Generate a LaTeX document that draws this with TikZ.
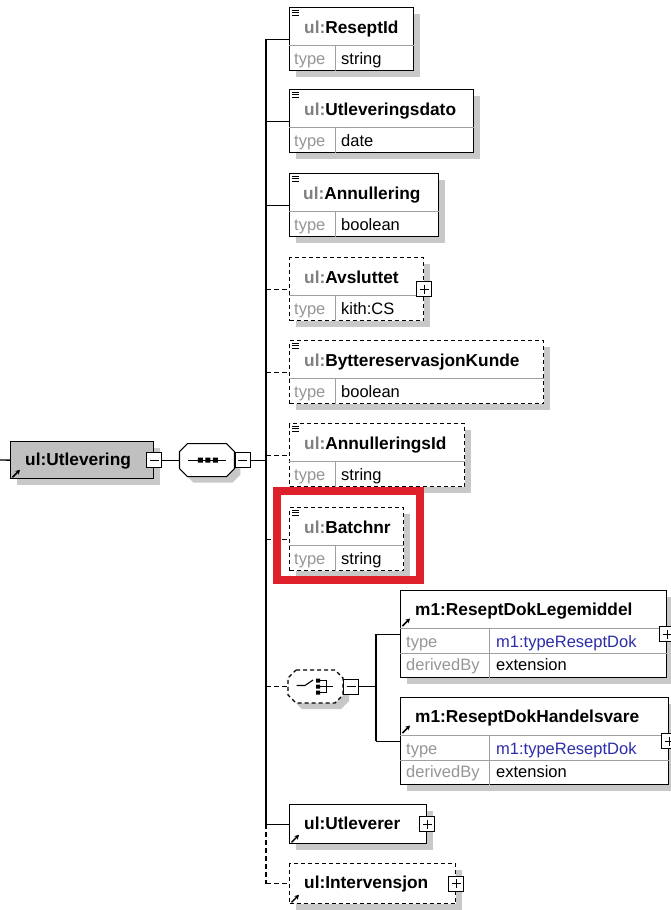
\documentclass[tikz,border=0pt]{standalone}
\usepackage{fontspec}
\setmainfont{Liberation Sans}
\usetikzlibrary{positioning,shadows,arrows.meta}
\definecolor{shadegrey}{RGB}{200,200,200}
\definecolor{rootgrey}{RGB}{192,192,192}
\definecolor{nsgrey}{RGB}{128,128,128}
\definecolor{labelgrey}{RGB}{150,150,150}
\definecolor{rulegrey}{RGB}{160,160,160}
\definecolor{typeblue}{RGB}{45,45,170}
\definecolor{markred}{RGB}{222,32,42}
\newcommand\elemfont{\fontsize{17.3}{20}\selectfont\bfseries}
\newcommand\cellfont{\fontsize{16.5}{19}\selectfont}
\newcommand\nspfx[1]{\textcolor{nsgrey}{#1}}
\begin{document}
\begin{tikzpicture}[x=1pt,y=-1pt,
    elbox/.style={draw,line width=1.3pt,fill=white,anchor=north west,inner sep=0pt,minimum height=63pt,
      drop shadow={shadow xshift=6pt,shadow yshift=-6pt,fill=shadegrey,opacity=1}},
    optbox/.style={elbox,dash pattern=on 4pt off 3pt},
    ename/.style={anchor=base west,inner sep=0pt,font=\elemfont},
    tlabel/.style={anchor=base west,inner sep=0pt,font=\cellfont,text=labelgrey},
    tvalue/.style={anchor=base west,inner sep=0pt,font=\cellfont},
    cellrule/.style={draw=rulegrey,line width=0.9pt},
    wire/.style={line width=1.3pt},
    optwire/.style={wire,dash pattern=on 5pt off 3pt},
    minusbox/.style={draw,fill=white,line width=0.9pt,minimum size=15pt,inner sep=0pt,
      path picture={\draw[line width=0.9pt] ([xshift=3pt]path picture bounding box.west) -- ([xshift=-3pt]path picture bounding box.east);}},
    plusbox/.style={draw,fill=white,line width=0.9pt,minimum size=15pt,inner sep=0pt,
      path picture={\draw[line width=0.9pt] ([xshift=3pt]path picture bounding box.west) -- ([xshift=-3pt]path picture bounding box.east)
        ([yshift=-3pt]path picture bounding box.north) -- ([yshift=3pt]path picture bounding box.south);}},
    groupbox/.style={minimum width=55pt,minimum height=33pt,inner sep=0pt},
    octagon/.pic={
      \fill[shadegrey,shift={(6,6)}] (-19.5,-16.5) -- (19.5,-16.5) -- (27.5,-8.5) -- (27.5,8.5) -- (19.5,16.5)
        -- (-19.5,16.5) -- (-27.5,8.5) -- (-27.5,-8.5) -- cycle;
      \draw[fill=white,line width=1.1pt,pic actions] (-19.5,-16.5) -- (19.5,-16.5) -- (27.5,-8.5) -- (27.5,8.5)
        -- (19.5,16.5) -- (-19.5,16.5) -- (-27.5,8.5) -- (-27.5,-8.5) -- cycle;},
    docmark/.pic={\draw[line width=0.9pt] (3,3) -- (10,3) (3,5.5) -- (10,5.5) (3,8) -- (10,8);},
    refmark/.pic={\draw[line width=1.5pt,-{Stealth[length=4.5pt,width=5pt]}] (2.5,-2) -- (10,-9.5);}]
\fill[white] (0,0) rectangle (670,910);
\useasboundingbox (0,0) rectangle (670,910);
\coordinate (in) at (0,460);
\coordinate (bus) at (266,0);
\coordinate (fork) at (376,0);

% root element and sequence
\node[elbox,fill=rootgrey,minimum width=143pt,minimum height=37pt] (root) at (10,441) {};
\node[ename] (rootname) at ([shift={(15,24)}]root.north west) {ul:Utlevering};
\pic at (root.south west) {refmark};
\node[minusbox] (rootm) at (root.east) {};
\node[groupbox,right=17pt of rootm] (seq) {};
\pic at (seq.center) {octagon};
\node[minusbox,right=0pt of seq] (seqm) {};
\begin{scope}[shift={(seq.center)}]
  \draw[line width=1.1pt] (-19,0) -- (19,0);
  \fill (-9,-2.5) rectangle ++(5,5) (-1.5,-2.5) rectangle ++(5,5) (6,-2.5) rectangle ++(5,5);
\end{scope}

% children of the sequence
\node[elbox,minimum width=124pt] (rid) at (289,7) {};
\pic at (rid.north west) {docmark};
\node[ename] (ridname) at ([shift={(15,26)}]rid.north west) {\nspfx{ul:}ReseptId};
\draw[cellrule] ([yshift=-38pt]rid.north west) -- ([yshift=-38pt]rid.north east)
                ([shift={(46,38)}]rid.north west) -- ([xshift=46pt]rid.south west);
\node[tlabel] (ridtype) at ([shift={(5,57)}]rid.north west) {type};
\node[tvalue] (ridvalue) at ([shift={(52,57)}]rid.north west) {string};

\node[elbox,minimum width=184pt] (udt) at (289,89) {};
\pic at (udt.north west) {docmark};
\node[ename] (udtname) at ([shift={(15,26)}]udt.north west) {\nspfx{ul:}Utleveringsdato};
\draw[cellrule] ([yshift=-38pt]udt.north west) -- ([yshift=-38pt]udt.north east)
                ([shift={(46,38)}]udt.north west) -- ([xshift=46pt]udt.south west);
\node[tlabel] (udttype) at ([shift={(5,57)}]udt.north west) {type};
\node[tvalue] (udtvalue) at ([shift={(52,57)}]udt.north west) {date};

\node[elbox,minimum width=149pt] (ann) at (289,173) {};
\pic at (ann.north west) {docmark};
\node[ename] (annname) at ([shift={(14,26)}]ann.north west) {\nspfx{ul:}Annullering};
\draw[cellrule] ([yshift=-38pt]ann.north west) -- ([yshift=-38pt]ann.north east)
                ([shift={(46,38)}]ann.north west) -- ([xshift=46pt]ann.south west);
\node[tlabel] (anntype) at ([shift={(5,57)}]ann.north west) {type};
\node[tvalue] (annvalue) at ([shift={(52,57)}]ann.north west) {boolean};

\node[optbox,minimum width=134pt] (avs) at (289,257) {};
\node[ename] (avsname) at ([shift={(15,26)}]avs.north west) {\nspfx{ul:}Avsluttet};
\draw[cellrule] ([yshift=-38pt]avs.north west) -- ([yshift=-38pt]avs.north east)
                ([shift={(46,38)}]avs.north west) -- ([xshift=46pt]avs.south west);
\node[tlabel] (avstype) at ([shift={(5,57)}]avs.north west) {type};
\node[tvalue] (avsvalue) at ([shift={(52,57)}]avs.north west) {kith:CS};
\node[plusbox] (avsp) at (avs.east) {};

\node[optbox,minimum width=254pt] (byt) at (289,340) {};
\pic at (byt.north west) {docmark};
\node[ename] (bytname) at ([shift={(15,26)}]byt.north west) {\nspfx{ul:}ByttereservasjonKunde};
\draw[cellrule] ([yshift=-38pt]byt.north west) -- ([yshift=-38pt]byt.north east)
                ([shift={(46,38)}]byt.north west) -- ([xshift=46pt]byt.south west);
\node[tlabel] (byttype) at ([shift={(5,57)}]byt.north west) {type};
\node[tvalue] (bytvalue) at ([shift={(52,57)}]byt.north west) {boolean};

\node[optbox,minimum width=175pt] (aid) at (289,423) {};
\pic at (aid.north west) {docmark};
\node[ename] (aidname) at ([shift={(15,26)}]aid.north west) {\nspfx{ul:}AnnulleringsId};
\draw[cellrule] ([yshift=-38pt]aid.north west) -- ([yshift=-38pt]aid.north east)
                ([shift={(46,38)}]aid.north west) -- ([xshift=46pt]aid.south west);
\node[tlabel] (aidtype) at ([shift={(5,57)}]aid.north west) {type};
\node[tvalue] (aidvalue) at ([shift={(52,57)}]aid.north west) {string};

\node[optbox,minimum width=114pt] (bat) at (289,507) {};
\pic at (bat.north west) {docmark};
\node[ename] (batname) at ([shift={(15,26)}]bat.north west) {\nspfx{ul:}Batchnr};
\draw[cellrule] ([yshift=-38pt]bat.north west) -- ([yshift=-38pt]bat.north east)
                ([shift={(46,38)}]bat.north west) -- ([xshift=46pt]bat.south west);
\node[tlabel] (battype) at ([shift={(5,57)}]bat.north west) {type};
\node[tvalue] (batvalue) at ([shift={(52,57)}]bat.north west) {string};

% choice
\node[groupbox] (chc) at (315.5,686.5) {};
\pic[dash pattern=on 4pt off 3pt] at (chc.center) {octagon};
\node[minusbox,right=0pt of chc] (chcm) {};
\begin{scope}[shift={(chc.center)}]
  \draw[line width=1.1pt] (-19,-1) -- (-10.5,-1) -- (-2.5,-6.5);
  \fill (0.5,-8) rectangle ++(4,4) (0.5,-2) rectangle ++(4,4) (0.5,4) rectangle ++(4,4);
  \draw[line width=1pt] (4.5,-6) -- (11,-6) -- (11,6) -- (4.5,6) (4.5,0) -- (17,0);
\end{scope}

\node[elbox,minimum width=266pt,minimum height=87pt] (leg) at (400,590) {};
\pic at ([yshift=-38pt]leg.north west) {refmark};
\node[ename] (legname) at ([shift={(15,25)}]leg.north west) {m1:ReseptDokLegemiddel};
\draw[cellrule] ([yshift=-38pt]leg.north west) -- ([yshift=-38pt]leg.north east)
                ([yshift=-63pt]leg.north west) -- ([yshift=-63pt]leg.north east)
                ([shift={(89,38)}]leg.north west) -- ([xshift=89pt]leg.south west);
\node[tlabel] (legtype) at ([shift={(6,57)}]leg.north west) {type};
\node[tvalue,text=typeblue] (legtypev) at ([shift={(96,57)}]leg.north west) {m1:typeReseptDok};
\node[tlabel] (legder) at ([shift={(6,80)}]leg.north west) {derivedBy};
\node[tvalue] (legderv) at ([shift={(96,80)}]leg.north west) {extension};
\node[plusbox] (legp) at (leg.east) {};

\node[elbox,minimum width=268pt,minimum height=87pt] (han) at (400,697) {};
\pic at ([yshift=-38pt]han.north west) {refmark};
\node[ename] (hanname) at ([shift={(15,25)}]han.north west) {m1:ReseptDokHandelsvare};
\draw[cellrule] ([yshift=-38pt]han.north west) -- ([yshift=-38pt]han.north east)
                ([yshift=-63pt]han.north west) -- ([yshift=-63pt]han.north east)
                ([shift={(89,38)}]han.north west) -- ([xshift=89pt]han.south west);
\node[tlabel] (hantype) at ([shift={(6,57)}]han.north west) {type};
\node[tvalue,text=typeblue] (hantypev) at ([shift={(96,57)}]han.north west) {m1:typeReseptDok};
\node[tlabel] (hander) at ([shift={(6,80)}]han.north west) {derivedBy};
\node[tvalue] (handerv) at ([shift={(96,80)}]han.north west) {extension};
\node[plusbox] (hanp) at (han.east) {};

% references at the end
\node[elbox,minimum width=137pt,minimum height=39pt] (utl) at (289,804) {};
\pic at (utl.south west) {refmark};
\node[ename] (utlname) at ([shift={(15,25)}]utl.north west) {ul:Utleverer};
\node[plusbox] (utlp) at (utl.east) {};

\node[optbox,minimum width=166pt,minimum height=40pt] (intv) at (289,863) {};
\pic at (intv.south west) {refmark};
\node[ename] (intvname) at ([shift={(15,25)}]intv.north west) {ul:Intervensjon};
\node[plusbox] (intvp) at (intv.east) {};

% connectors
\draw[wire] (in) -- (root.west);
\draw[wire] (rootm.east) -- (seq.west);
\draw[wire] (seqm.east) -- (bus |- seqm.east);
\draw[wire] (bus |- rid.west) -- (bus |- utl.west);
\draw[optwire] (bus |- utl.west) -- (bus |- intv.west);
\draw[wire] (bus |- rid.west) -- (rid.west);
\draw[wire] (bus |- udt.west) -- (udt.west);
\draw[wire] (bus |- ann.west) -- (ann.west);
\draw[optwire] (bus |- avs.west) -- (avs.west);
\draw[optwire] (bus |- byt.west) -- (byt.west);
\draw[optwire] (bus |- aid.west) -- (aid.west);
\draw[optwire] (bus |- bat.west) -- (bat.west);
\draw[optwire] (bus |- chc.west) -- (chc.west);
\draw[wire] (chcm.east) -- (fork |- chcm.east);
\draw[wire] (fork |- leg.west) -- (fork |- han.west);
\draw[wire] (fork |- leg.west) -- (leg.west);
\draw[wire] (fork |- han.west) -- (han.west);
\draw[wire] (bus |- utl.west) -- (utl.west);
\draw[optwire] (bus |- intv.west) -- (intv.west);

% highlight
\draw[markred,line width=8pt] ([shift={(-12,-16)}]bat.north west) rectangle ([shift={(16,9)}]bat.south east);
\end{tikzpicture}
\end{document}
